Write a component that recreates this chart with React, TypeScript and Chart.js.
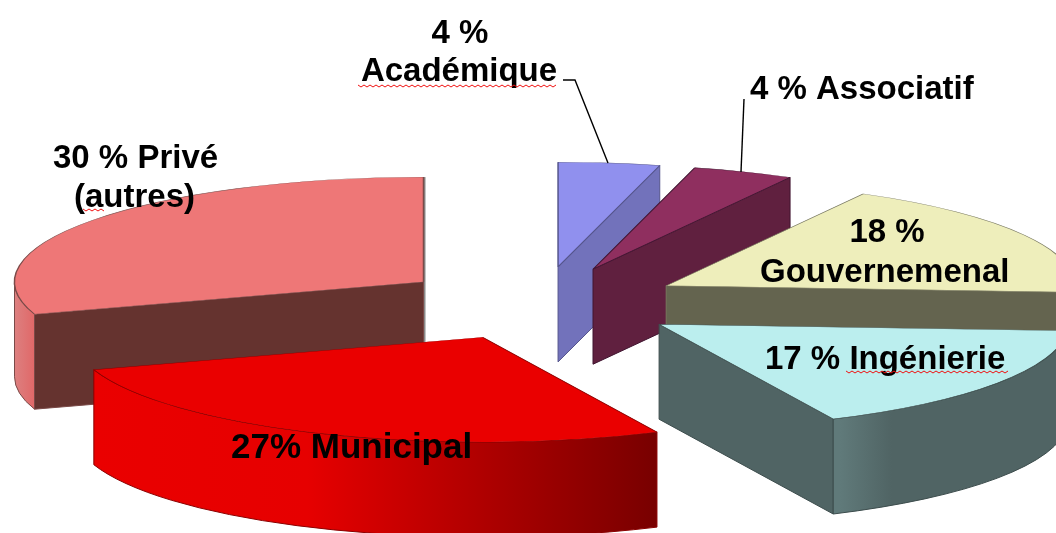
import React, { useEffect, useRef } from "react";
import { Chart, registerables } from "chart.js";

Chart.register(...registerables);

const categories = ["Académique", "Associatif", "Gouvernemenal", "Ingénierie", "Municipal", "Privé (autres)"];
const shares = [4, 4, 18, 17, 27, 30];
const topColors = ["#9090ee", "#8f2f5f", "#eeeebb", "#bbeeee", "#ea0000", "#ee7777"];
const cutWallColors = ["#7272bb", "#60203f", "#64644f", "#506464", "#bb0000", "#65332f"];
const edgeColors = ["#55558c", "#401530", "#77775e", "#3c4c4c", "#8a0000", "#7a4a48"];
// painter's order: back to front
const paintOrder = [5, 0, 1, 2, 3, 4];

const FAMILY = '"Liberation Sans", Arial, sans-serif';
// text, x, baseline, align, font size
const labelLines: [string, number, number, CanvasTextAlign, number][] = [
  ["4 %", 460, 43, "center", 33],
  ["Académique", 459, 81, "center", 33],
  ["4 % Associatif", 750, 99, "left", 33],
  ["30 % Privé", 53, 168, "left", 33],
  ["(autres)", 74, 207, "left", 33],
  ["18 %", 887, 242, "center", 33],
  ["Gouvernemenal", 760, 282, "left", 33],
  ["17 % Ingénierie", 765, 369, "left", 33],
  ["27% Municipal", 231, 458, "left", 35],
];
const squiggles: [number, number, number][] = [
  [358, 558, 85],
  [83, 106, 209],
  [846, 1008, 371],
];
const leaders: [number, number][][] = [
  [[563, 80], [575, 80], [608, 163]],
  [[744, 99], [741, 172]],
];

const pieFace3d = {
  id: "pieFace3d",
  beforeDatasetDraw(chart: any) {
    const ctx: CanvasRenderingContext2D = chart.ctx;
    const meta = chart.getDatasetMeta(0);
    const k = 105 / 410;
    const depth = 95;
    const explode = 144;

    for (const i of paintOrder) {
      const arc = meta.data[i];
      const { x, y, startAngle: a, endAngle: b, outerRadius: r } = arc;
      const mid = (a + b) / 2;
      const cx = x + Math.cos(mid) * explode;
      const cy = y + Math.sin(mid) * explode * k;
      const px = (t: number) => cx + Math.cos(t) * r;
      const py = (t: number) => cy + Math.sin(t) * r * k;

      ctx.save();
      ctx.lineWidth = 1;
      ctx.strokeStyle = edgeColors[i];

      // thin grey back edge of the big slice
      if (i === 5) {
        ctx.fillStyle = "#8a8a8a";
        ctx.fillRect(cx, cy - r * k, 2, r * k + depth);
      }

      // flat cut walls that face the viewer
      const wall = (t: number) => {
        ctx.beginPath();
        ctx.moveTo(cx, cy);
        ctx.lineTo(px(t), py(t));
        ctx.lineTo(px(t), py(t) + depth);
        ctx.lineTo(cx, cy + depth);
        ctx.closePath();
        ctx.fillStyle = cutWallColors[i];
        ctx.fill();
        ctx.stroke();
      };
      if (Math.cos(a) < -1e-6) wall(a);
      if (Math.cos(b) > 1e-6) wall(b);

      // curved outer wall on the near half of the rim
      const norm = (t: number) => ((t % (2 * Math.PI)) + 2 * Math.PI) % (2 * Math.PI);
      const sA = norm(a);
      const sB = sA + (b - a);
      const from = Math.max(sA, sA > Math.PI ? 2 * Math.PI : 0);
      const to = Math.min(sB, sA > Math.PI ? 3 * Math.PI : Math.PI);
      if (to > from) {
        const g = ctx.createLinearGradient(px(to), 0, px(from), 0);
        if (i === 4) {
          g.addColorStop(0, "#ea0000");
          g.addColorStop(0.38, "#e60000");
          g.addColorStop(1, "#780000");
        } else if (i === 3) {
          g.addColorStop(0, "#607a7a");
          g.addColorStop(0.03, "#607a7a");
          g.addColorStop(0.25, "#506464");
          g.addColorStop(1, "#506464");
        } else if (i === 5) {
          g.addColorStop(0, "#dd8080");
          g.addColorStop(1, "#e06868");
        } else {
          g.addColorStop(0, cutWallColors[i]);
          g.addColorStop(1, cutWallColors[i]);
        }
        ctx.beginPath();
        ctx.ellipse(cx, cy, r, r * k, 0, from, to);
        ctx.ellipse(cx, cy + depth, r, r * k, 0, to, from, true);
        ctx.closePath();
        ctx.fillStyle = g;
        ctx.fill();
        ctx.stroke();
      }

      // top face, drawn by Chart.js's own arc element on a squashed plane
      ctx.translate(cx - x, cy);
      ctx.scale(1, k);
      ctx.translate(0, -y);
      arc.draw(ctx);
      ctx.restore();
    }

    // leader lines
    ctx.save();
    ctx.strokeStyle = "#000";
    ctx.lineWidth = 1.4;
    for (const line of leaders) {
      ctx.beginPath();
      line.forEach(([lx, ly], n) => (n ? ctx.lineTo(lx, ly) : ctx.moveTo(lx, ly)));
      ctx.stroke();
    }
    ctx.restore();

    // labels
    ctx.save();
    ctx.fillStyle = "#000";
    ctx.textBaseline = "alphabetic";
    for (const [text, lx, ly, align, size] of labelLines) {
      ctx.font = `bold ${size}px ${FAMILY}`;
      ctx.textAlign = align;
      ctx.fillText(text, lx, ly);
    }
    // spell-check squiggles
    ctx.strokeStyle = "#f01010";
    ctx.lineWidth = 1;
    for (const [x0, x1, yy] of squiggles) {
      ctx.beginPath();
      for (let sx = x0, n = 0; sx <= x1; sx += 3, n++) {
        const sy = yy + (n % 2 ? 2 : 0);
        n ? ctx.lineTo(sx, sy) : ctx.moveTo(sx, sy);
      }
      ctx.stroke();
    }
    ctx.restore();
    return false;
  },
};

export default function App() {
  const ref = useRef<HTMLCanvasElement>(null);
  useEffect(() => {
    const chart = new Chart(ref.current!, {
      type: "pie",
      data: {
        labels: categories,
        datasets: [
          {
            data: shares,
            backgroundColor: topColors,
            borderColor: edgeColors,
            borderWidth: 1.5,
            offset: 0,
            hoverOffset: 0,
          },
        ],
      },
      options: {
        responsive: false,
        animation: false,
        radius: 409,
        layout: { padding: { left: 24, top: 74, right: 0, bottom: 0 } },
        plugins: { legend: { display: false }, tooltip: { enabled: false } },
      },
      plugins: [pieFace3d],
    } as any);
    return () => chart.destroy();
  }, []);
  return (
    <canvas
      ref={ref}
      width={1056}
      height={533}
      style={{ position: "absolute", left: 0, top: 0, width: 1056, height: 533, display: "block" }}
    />
  );
}
